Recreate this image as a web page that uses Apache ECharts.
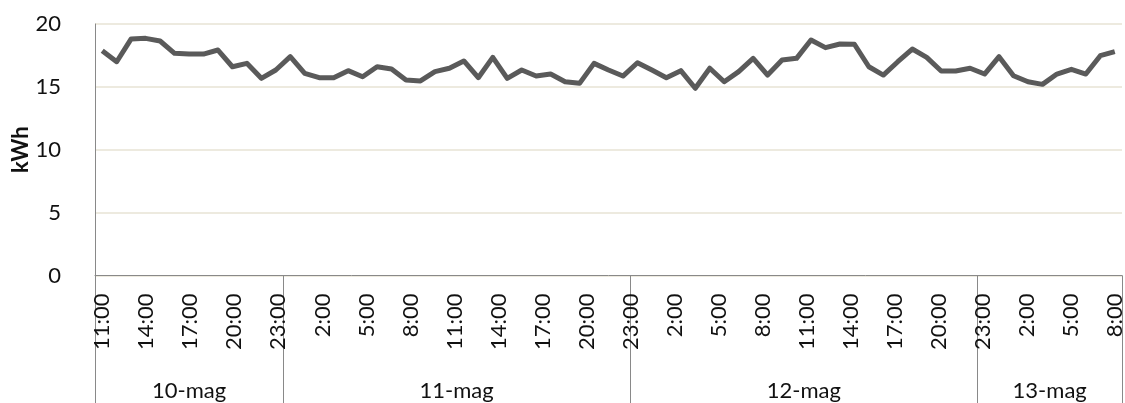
<!DOCTYPE html>
<html>
<head>
<meta charset="utf-8">
<script src="https://cdn.jsdelivr.net/npm/echarts@6/dist/echarts.min.js"></script>
<style>
  html, body { margin: 0; padding: 0; background: #fff; }
  #chart { width: 1125px; height: 403px; }
</style>
</head>
<body>
<div id="chart"></div>
<script>
// Hourly categories (10-mag 11:00 ... 13-mag 9:00)
const hours = [
  "11:00","12:00","13:00","14:00","15:00","16:00","17:00","18:00","19:00","20:00","21:00","22:00","23:00",
  "0:00","1:00","2:00","3:00","4:00","5:00","6:00","7:00","8:00","9:00","10:00","11:00","12:00","13:00","14:00","15:00","16:00","17:00","18:00","19:00","20:00","21:00","22:00","23:00",
  "0:00","1:00","2:00","3:00","4:00","5:00","6:00","7:00","8:00","9:00","10:00","11:00","12:00","13:00","14:00","15:00","16:00","17:00","18:00","19:00","20:00","21:00","22:00","23:00",
  "0:00","1:00","2:00","3:00","4:00","5:00","6:00","7:00","8:00","9:00"
];
// Day groups (outer category level)
const dayNames = ["10-mag", "11-mag", "12-mag", "13-mag"];
const dayCounts = [13, 24, 24, 10];
// Energy per hour, kWh
const kwh = [
  17.88, 17.00, 18.81, 18.86, 18.65, 17.67, 17.61, 17.61, 17.93, 16.60, 16.87, 15.68, 16.34,
  17.40, 16.08, 15.73, 15.73, 16.29, 15.81, 16.60, 16.42, 15.55, 15.47, 16.21, 16.48, 17.06,
  15.73, 17.35, 15.68, 16.34, 15.86, 16.02, 15.41, 15.28, 16.87, 16.34, 15.86, 16.92, 16.34,
  15.73, 16.29, 14.89, 16.48, 15.41, 16.21, 17.27, 15.94, 17.14, 17.27, 18.73, 18.12, 18.41,
  18.39, 16.60, 15.94, 17.00, 18.01, 17.35, 16.26, 16.26, 16.48, 16.02, 17.40, 15.89, 15.41,
  15.20, 16.02, 16.40, 16.02, 17.48, 17.80
];
const yTicks = { min: 0, max: 20, interval: 5 };

const FONT = 'Lato, "Liberation Sans", sans-serif';
const AXIS_COLOR = '#898989';
const TEXT_COLOR = '#111';

// group boundaries and centres derived from dayCounts
const bounds = [0];
dayCounts.forEach(c => bounds.push(bounds[bounds.length - 1] + c));
const centers = dayCounts.map((c, i) => bounds[i] + c / 2);
const total = bounds[bounds.length - 1];

const chart = echarts.init(document.getElementById('chart'), null, { renderer: 'canvas' });
chart.setOption({
  animation: false,
  backgroundColor: '#fff',
  grid: { left: 95, right: 3, top: 24, height: 251.5, containLabel: false, outerBoundsMode: 'none' },
  xAxis: [
    {
      type: 'category',
      data: hours,
      boundaryGap: true,
      position: 'bottom',
      axisLine: { show: true, onZero: false, lineStyle: { color: AXIS_COLOR, width: 1 } },
      axisTick: { show: false },
      axisLabel: { show: false },
      splitLine: { show: false }
    },
    {
      type: 'category',
      data: hours.slice(0, total - 1),
      boundaryGap: true,
      position: 'bottom',
      axisLine: { show: false, onZero: false },
      axisTick: { show: false },
      axisLabel: {
        interval: 2, rotate: 90, margin: 18,
        fontFamily: FONT, fontSize: 22, color: TEXT_COLOR
      },
      splitLine: { show: false }
    },
    {
      type: 'value',
      min: 0, max: total,
      position: 'bottom',
      axisLine: { show: false, onZero: false },
      axisTick: {
        show: true, inside: false, length: 128,
        customValues: bounds,
        lineStyle: { color: AXIS_COLOR, width: 1 }
      },
      axisLabel: {
        customValues: centers,
        margin: 104,
        fontFamily: FONT, fontSize: 22, color: TEXT_COLOR,
        formatter: function (v) {
          for (let i = 0; i < centers.length; i++) {
            if (Math.abs(centers[i] - v) < 1e-6) return dayNames[i];
          }
          return '';
        }
      },
      splitLine: { show: false }
    }
  ],
  yAxis: {
    type: 'value',
    min: yTicks.min, max: yTicks.max, interval: yTicks.interval,
    name: 'kWh',
    nameLocation: 'middle',
    nameGap: 63,
    nameMoveOverlap: false,
    nameTextStyle: { fontFamily: FONT, fontSize: 22, fontWeight: 'bold', color: TEXT_COLOR },
    axisLine: { show: true, lineStyle: { color: AXIS_COLOR, width: 1 } },
    axisTick: { show: false },
    axisLabel: { margin: 34, fontFamily: FONT, fontSize: 22, color: TEXT_COLOR },
    splitLine: { show: true, lineStyle: { color: '#E7E3D5', width: 1.5 } }
  },
  series: [
    {
      type: 'line',
      xAxisIndex: 0,
      data: kwh,
      symbol: 'none',
      smooth: false,
      lineStyle: { color: '#5A5A5A', width: 5, join: 'round' }
    }
  ]
});
</script>
</body>
</html>
